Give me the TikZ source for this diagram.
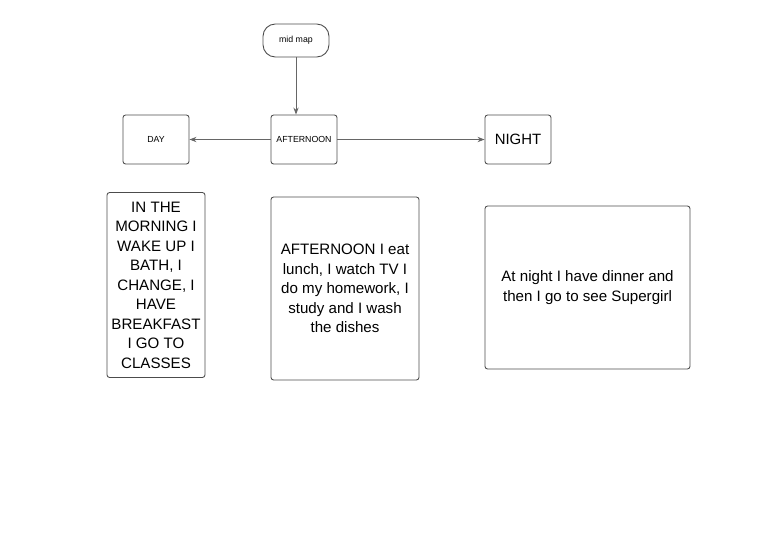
\documentclass[tikz,border=0pt]{standalone}
\usepackage{fontspec}
\setmainfont{Liberation Sans}
\usetikzlibrary{arrows.meta, positioning}

\begin{document}
\begin{tikzpicture}[x=0.02cm, y=-0.02cm,
    box/.style={draw=black!70, rounded corners=1.5pt, line width=0.5pt, align=center, inner sep=1pt},
    textbox/.style={box, font=\fontsize{8.6}{11.1}\selectfont},
    conn/.style={draw=black!60, line width=0.5pt, -{Stealth[length=4pt, width=3pt]}}]
      \useasboundingbox (0,0) rectangle (768,542);

      \node[box, rounded corners=7pt, minimum width=66*0.02cm, minimum height=33*0.02cm, font=\fontsize{5}{6}\selectfont] (midmap) at (296,40.5) {mid map};

      \node[box, minimum width=66*0.02cm, minimum height=49*0.02cm, font=\fontsize{5}{6}\selectfont] (day) at (156,139.5) {DAY};
      \node[box, minimum width=66*0.02cm, minimum height=49*0.02cm, font=\fontsize{5}{6}\selectfont] (afternoon) at (304,139.5) {AFTERNOON};
      \node[box, minimum width=66*0.02cm, minimum height=49*0.02cm, font=\fontsize{8.5}{10}\selectfont] (night) at (518,139.5) {NIGHT};

      \node[textbox, minimum width=98*0.02cm, minimum height=185*0.02cm] (daytext) at (156,285)
        {IN THE\\ MORNING I\\ WAKE UP I\\ BATH, I\\ CHANGE, I\\ HAVE\\ BREAKFAST\\ I GO TO\\ CLASSES};
      \node[textbox, minimum width=148*0.02cm, minimum height=183*0.02cm] (afternoontext) at (345,288.5)
        {AFTERNOON I eat\\ lunch, I watch TV I\\ do my homework, I\\ study and I wash\\ the dishes};
      \node[textbox, minimum width=205*0.02cm, minimum height=163*0.02cm] (nighttext) at (587.5,287.5)
        {At night I have dinner and\\ then I go to see Supergirl};

      \draw[conn] (midmap) -- (midmap |- afternoon.north);
      \draw[conn] (afternoon) -- (day);
      \draw[conn] (afternoon) -- (night);
\end{tikzpicture}
\end{document}
